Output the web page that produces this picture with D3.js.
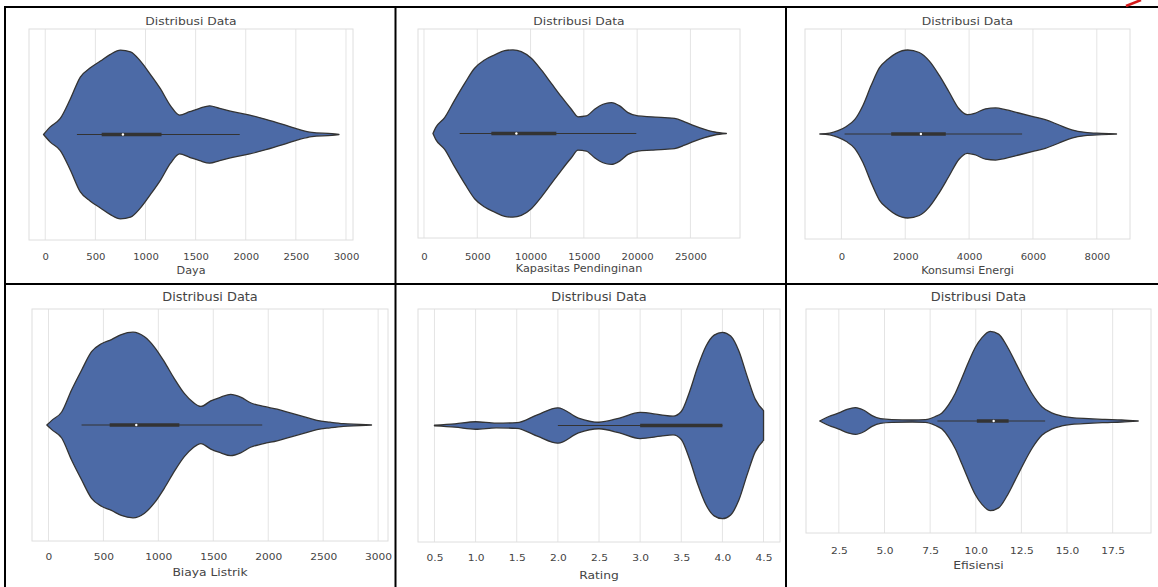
<!DOCTYPE html>
<html lang="id">
<head>
<meta charset="UTF-8">
<title>Distribusi Data</title>
<style>
  body { margin: 0; background: #fff; }
  svg { display: block; font-family: "DejaVu Sans", sans-serif; }
</style>
</head>
<body>
<svg id="chart" width="1158" height="587"></svg>
<script src="https://cdn.jsdelivr.net/npm/d3@7"></script>
<script>
// violin outlines: value -> relative half-width (1 = widest)
const dayaX = [-17, 50, 150, 250, 350, 450, 550, 650, 750, 850, 950, 1050, 1150, 1250, 1340, 1440, 1540, 1640, 1740, 1870, 2040, 2200, 2370, 2530, 2660, 2860, 2930];
const dayaW = [0, 0.09, 0.19, 0.42, 0.68, 0.79, 0.87, 0.95, 1.0, 0.98, 0.87, 0.71, 0.54, 0.34, 0.23, 0.27, 0.31, 0.34, 0.31, 0.27, 0.23, 0.18, 0.12, 0.06, 0.025, 0.01, 0];
const dayaBox = [316, 563, 775, 1160, 1940]; // whisker lo, q1, median, q3, whisker hi
const dayaTicks = [0, 500, 1000, 1500, 2000, 2500, 3000];
const dayaLim = [-162, 3070];

const kapasitasX = [844, 1100, 1940, 2880, 3820, 4750, 5690, 6630, 7570, 8350, 9130, 10070, 11010, 11950, 12890, 13830, 14450, 15230, 16010, 16800, 17580, 18360, 19140, 20080, 21330, 22580, 23520, 24450, 25390, 26330, 27270, 28370];
const kapasitasW = [0, 0.07, 0.19, 0.40, 0.60, 0.78, 0.88, 0.94, 0.99, 1.0, 0.98, 0.90, 0.76, 0.60, 0.44, 0.29, 0.20, 0.21, 0.29, 0.35, 0.37, 0.33, 0.25, 0.21, 0.20, 0.19, 0.18, 0.14, 0.09, 0.05, 0.018, 0];
const kapasitasBox = [3350, 6320, 8670, 12420, 19920];
const kapasitasTicks = [0, 5000, 10000, 15000, 20000, 25000];
const kapasitasLim = [-560, 29650];

const konsumsiX = [-676, -364, -104, 156, 415, 675, 934, 1194, 1454, 1713, 2075, 2439, 2750, 3062, 3373, 3685, 3945, 4205, 4517, 4829, 5140, 5555, 5970, 6386, 6801, 7216, 7632, 8151, 8618];
const konsumsiW = [0, 0.01, 0.04, 0.09, 0.17, 0.34, 0.58, 0.79, 0.89, 0.96, 1.0, 0.97, 0.87, 0.70, 0.50, 0.30, 0.23, 0.25, 0.30, 0.31, 0.29, 0.25, 0.21, 0.17, 0.11, 0.05, 0.02, 0.008, 0];
const konsumsiBox = [100, 1560, 2490, 3270, 5660];
const konsumsiTicks = [0, 2000, 4000, 6000, 8000];
const konsumsiLim = [-1140, 9040];

const biayaX = [-15, 30, 120, 211, 301, 392, 482, 573, 663, 769, 874, 964, 1055, 1145, 1236, 1311, 1387, 1477, 1568, 1658, 1749, 1839, 1960, 2081, 2201, 2322, 2443, 2563, 2684, 2835, 2940];
const biayaW = [0, 0.05, 0.14, 0.38, 0.59, 0.79, 0.875, 0.92, 0.975, 1.0, 0.95, 0.84, 0.68, 0.50, 0.34, 0.25, 0.20, 0.26, 0.30, 0.33, 0.30, 0.24, 0.20, 0.17, 0.13, 0.09, 0.05, 0.03, 0.014, 0.007, 0];
const biayaBox = [301, 557, 799, 1191, 1945];
const biayaTicks = [0, 500, 1000, 1500, 2000, 2500, 3000];
const biayaLim = [-150, 3090];

const ratingX = [0.5, 0.75, 1.0, 1.25, 1.5, 1.75, 2.0, 2.25, 2.5, 2.75, 3.0, 3.25, 3.4, 3.5, 3.6, 3.7, 3.8, 3.9, 4.0, 4.1, 4.2, 4.3, 4.4, 4.5];
const ratingW = [0.004, 0.018, 0.04, 0.025, 0.03, 0.115, 0.19, 0.08, 0.035, 0.08, 0.14, 0.115, 0.10, 0.15, 0.36, 0.63, 0.85, 0.97, 1.0, 0.96, 0.80, 0.53, 0.28, 0.16];
const ratingBox = [2.0, 3.0, 4.0, 4.0, 4.0];
const ratingTicks = [0.5, 1.0, 1.5, 2.0, 2.5, 3.0, 3.5, 4.0, 4.5];
const ratingLim = [0.3, 4.7];

const efisiensiX = [1.45, 1.95, 2.5, 2.95, 3.41, 3.87, 4.32, 4.78, 5.41, 6.51, 7.24, 7.79, 8.15, 8.51, 8.88, 9.24, 9.61, 9.97, 10.34, 10.79, 11.25, 11.70, 12.16, 12.61, 13.07, 13.62, 14.16, 14.71, 15.26, 16.17, 17.08, 17.99, 18.90];
const efisiensiW = [0, 0.05, 0.09, 0.13, 0.15, 0.12, 0.06, 0.026, 0.015, 0.011, 0.015, 0.05, 0.09, 0.18, 0.31, 0.48, 0.66, 0.82, 0.93, 1.0, 0.97, 0.84, 0.66, 0.48, 0.31, 0.16, 0.09, 0.055, 0.037, 0.026, 0.018, 0.011, 0];
const efisiensiBox = [7.9, 10.06, 10.98, 11.8, 13.8];
const efisiensiTicks = [2.5, 5.0, 7.5, 10.0, 12.5, 15.0, 17.5];
const efisiensiLim = [0.7, 19.6];

const title = "Distribusi Data";

// where each screenshot sits in the table
const panels = [
  { label: "Daya", xs: dayaX, ws: dayaW, box: dayaBox, ticks: dayaTicks, lim: dayaLim, fmt: "d",
    left: 29, right: 353, top: 29, bottom: 240, titleY: 25, tickY: 259.5, labelY: 274, fs: [11, 9, 10] },
  { label: "Kapasitas Pendinginan", xs: kapasitasX, ws: kapasitasW, box: kapasitasBox, ticks: kapasitasTicks, lim: kapasitasLim, fmt: "d",
    left: 418, right: 740, top: 29, bottom: 238, titleY: 25, tickY: 259.5, labelY: 272, fs: [11, 9, 10] },
  { label: "Konsumsi Energi", xs: konsumsiX, ws: konsumsiW, box: konsumsiBox, ticks: konsumsiTicks, lim: konsumsiLim, fmt: "d",
    left: 805, right: 1130, top: 29, bottom: 239, titleY: 25, tickY: 259.5, labelY: 273.5, fs: [11, 9, 10] },
  { label: "Biaya Listrik", xs: biayaX, ws: biayaW, box: biayaBox, ticks: biayaTicks, lim: biayaLim, fmt: "d",
    left: 32, right: 388, top: 309, bottom: 541, titleY: 301, tickY: 559.5, labelY: 576, fs: [11.5, 9.5, 11] },
  { label: "Rating", xs: ratingX, ws: ratingW, box: ratingBox, ticks: ratingTicks, lim: ratingLim, fmt: ".1f",
    left: 418, right: 780, top: 309, bottom: 542, titleY: 301, tickY: 560.5, labelY: 579, fs: [11.5, 9.5, 11] },
  { label: "Efisiensi", xs: efisiensiX, ws: efisiensiW, box: efisiensiBox, ticks: efisiensiTicks, lim: efisiensiLim, fmt: ".1f",
    left: 806, right: 1151, top: 309, bottom: 533, titleY: 301, tickY: 553.5, labelY: 569, fs: [11.5, 9.5, 11] }
];

const stretch = 1.12; // the screenshots are a bit wider than tall
const fill = "#4c6aa6";
const line = "#333333";
const textColor = "#444444";

const svg = d3.select("#chart");

function text(g, x, y, str, size) {
  g.append("g")
    .attr("transform", `translate(${x},${y}) scale(${stretch},1)`)
    .append("text")
    .attr("text-anchor", "middle")
    .attr("font-size", size)
    .attr("fill", textColor)
    .text(str);
}

panels.forEach(p => {
  const g = svg.append("g");
  const x = d3.scaleLinear().domain(p.lim).range([p.left, p.right]);
  const y = d3.scaleLinear().domain([-0.5, 0.5]).range([p.bottom, p.top]);

  // grid + frame
  g.selectAll(".grid").data(p.ticks).join("line")
    .attr("x1", d => x(d)).attr("x2", d => x(d))
    .attr("y1", p.top).attr("y2", p.bottom)
    .attr("stroke", "#e4e4e4").attr("stroke-width", 1);
  g.append("rect")
    .attr("x", p.left).attr("y", p.top)
    .attr("width", p.right - p.left).attr("height", p.bottom - p.top)
    .attr("fill", "none").attr("stroke", "#dedede").attr("stroke-width", 1);

  // violin
  const pts = p.xs.map((v, i) => [v, p.ws[i]]);
  const area = d3.area()
    .x(d => x(d[0]))
    .y0(d => y(-0.4 * d[1]))
    .y1(d => y(0.4 * d[1]))
    .curve(d3.curveMonotoneX);
  g.append("path").datum(pts)
    .attr("d", area)
    .attr("fill", fill)
    .attr("stroke", line).attr("stroke-width", 1.3)
    .attr("stroke-linejoin", "round");

  // inner box
  const [lo, q1, med, q3, hi] = p.box;
  g.append("line")
    .attr("x1", x(lo)).attr("x2", x(hi)).attr("y1", y(0)).attr("y2", y(0))
    .attr("stroke", line).attr("stroke-width", 1.2);
  g.append("line")
    .attr("x1", x(q1)).attr("x2", x(q3)).attr("y1", y(0)).attr("y2", y(0))
    .attr("stroke", line).attr("stroke-width", 3.6);
  if (med < q3) {
    g.append("circle")
      .attr("cx", x(med)).attr("cy", y(0)).attr("r", 1.2)
      .attr("fill", "#fff");
  }

  // axis labels
  const axis = d3.axisBottom(x).tickValues(p.ticks).tickSize(0).tickFormat(d3.format(p.fmt));
  const ax = g.append("g").attr("transform", `translate(0,${p.tickY})`).call(axis);
  ax.select(".domain").remove();
  ax.selectAll("text")
    .attr("y", 0).attr("dy", 0)
    .attr("font-family", "DejaVu Sans")
    .attr("font-size", p.fs[1])
    .attr("fill", textColor)
    .attr("transform", `scale(${stretch},1)`);

  text(g, (p.left + p.right) / 2, p.titleY, title, p.fs[0]);
  text(g, (p.left + p.right) / 2, p.labelY, p.label, p.fs[2]);
});

// table borders
const border = svg.append("g").attr("stroke", "#000").attr("stroke-width", 2);
border.append("line").attr("x1", 4).attr("x2", 1158).attr("y1", 7).attr("y2", 7);
border.append("line").attr("x1", 4).attr("x2", 1158).attr("y1", 284).attr("y2", 284);
[5, 395.5, 786].forEach(cx => {
  border.append("line").attr("x1", cx).attr("x2", cx).attr("y1", 6).attr("y2", 587);
});

// red pen mark in the corner
svg.append("path")
  .attr("d", "M1126,6 L1141,0")
  .attr("stroke", "#d41a1a").attr("stroke-width", 2.5).attr("fill", "none");
</script>
</body>
</html>
